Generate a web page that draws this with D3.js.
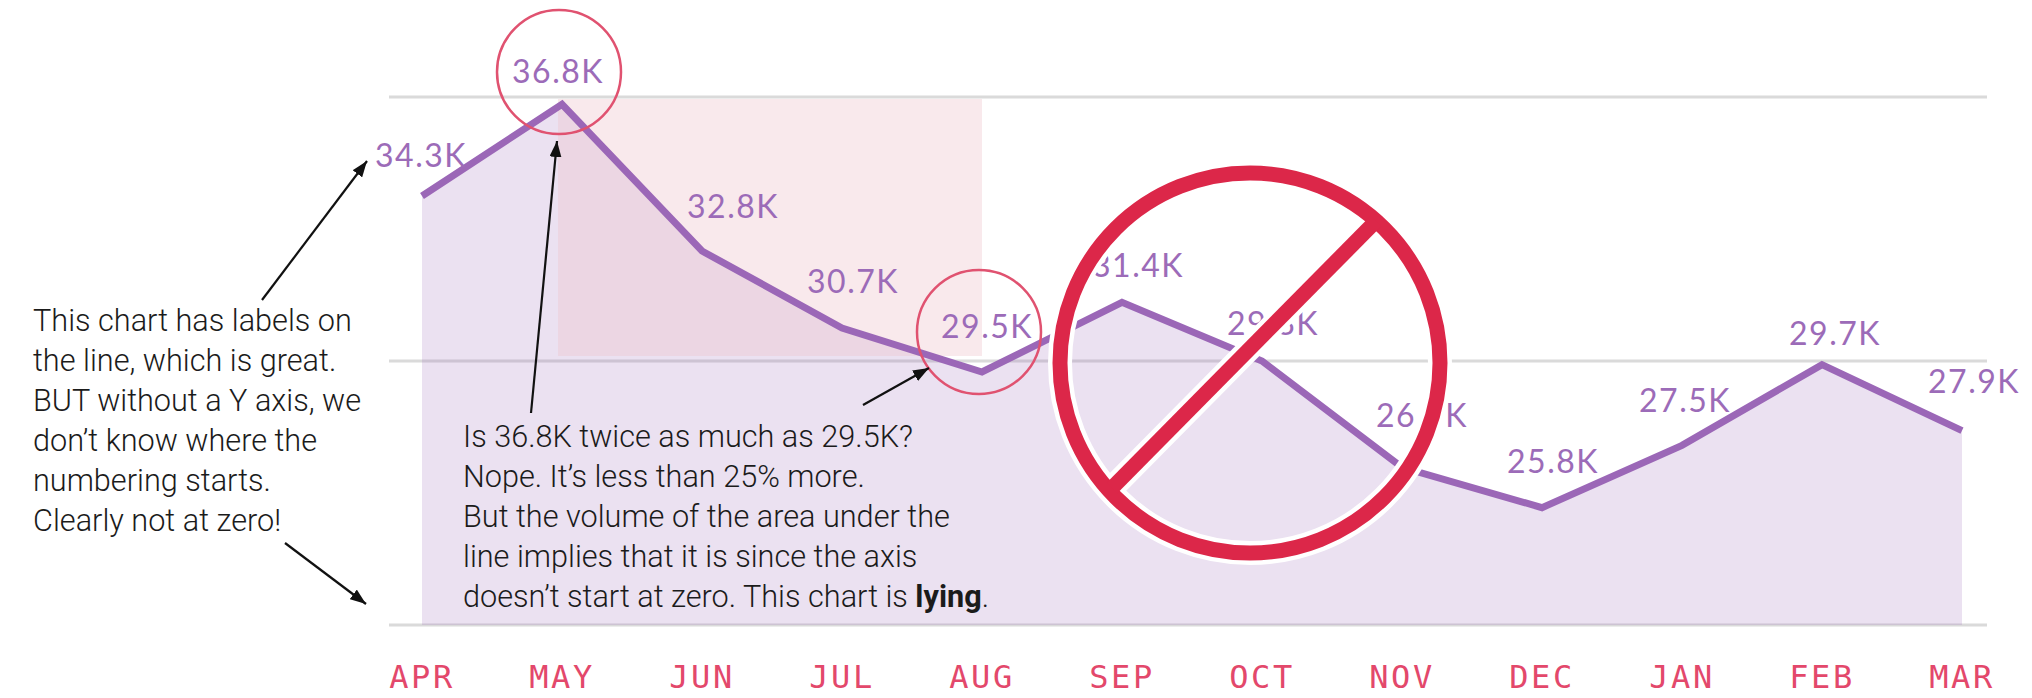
<!DOCTYPE html>
<html>
<head>
<meta charset="utf-8">
<script src="https://cdn.jsdelivr.net/npm/d3@7"></script>
<style>
  html, body { margin: 0; padding: 0; background: #ffffff; }
  svg { display: block; }
</style>
</head>
<body>
<svg id="chart" width="2032" height="698"></svg>
<script>
// ---- data ----
const months = ["APR", "MAY", "JUN", "JUL", "AUG", "SEP", "OCT", "NOV", "DEC", "JAN", "FEB", "MAR"];
const values = [34.3, 36.8, 32.8, 30.7, 29.5, 31.4, 29.8, 26.9, 25.8, 27.5, 29.7, 27.9]; // thousands
const gridValues = [22.6, 29.8, 37.0];

const leftNote = [
  "This chart has labels on",
  "the line, which is great.",
  "BUT without a Y axis, we",
  "don\u2019t know where the",
  "numbering starts.",
  "Clearly not at zero!"
];
const bottomNote = [
  "Is 36.8K twice as much as 29.5K?",
  "Nope. It\u2019s less than 25% more.",
  "But the volume of the area under the",
  "line implies that it is since the axis",
  "doesn\u2019t start at zero. This chart is "
];
const boldWord = "lying";

// ---- layout ----
const W = 2032, H = 698;
const gridX = [389, 1987];
// per-point label offsets [dx, dy] from the point to the label baseline centre
const labelNudge = [[-1, -29], [-4, -21], [31, -33], [11, -35], [5, -34], [16, -25],
                    [11, -26], [20, -40], [11, -35], [3, -33], [13, -20], [12, -38]];

const svg = d3.select("#chart");
const data = months.map((m, i) => ({ m, v: values[i], i }));

const x = d3.scalePoint().domain(months).range([422, 1962]);
const y = d3.scaleLinear().domain([gridValues[0], gridValues[gridValues.length - 1]]).range([625, 97]);

// gridlines
svg.append("g").selectAll("line").data(gridValues).join("line")
  .attr("x1", gridX[0]).attr("x2", gridX[1])
  .attr("y1", d => y(d)).attr("y2", d => y(d))
  .attr("stroke", "#dadada").attr("stroke-width", 3);

// area under the line
const area = d3.area()
  .x(d => x(d.m))
  .y0(y(gridValues[0]))
  .y1(d => y(d.v));
svg.append("path").datum(data)
  .attr("d", area)
  .attr("fill", "rgb(155,105,183)")
  .attr("fill-opacity", 0.2);

// highlighted span MAY..AUG
svg.append("rect")
  .attr("x", x("MAY") - 4).attr("width", x("AUG") - x("MAY") + 4)
  .attr("y", y(gridValues[2]) + 2)
  .attr("height", y(gridValues[1]) - y(gridValues[2]) - 7)
  .attr("fill", "rgb(240,196,204)")
  .attr("fill-opacity", 0.38);

// line
const line = d3.line().x(d => x(d.m)).y(d => y(d.v));
svg.append("path").datum(data)
  .attr("d", line)
  .attr("fill", "none")
  .attr("stroke", "#9b67b7")
  .attr("stroke-width", 7)
  .attr("stroke-linejoin", "miter");

// value labels
svg.append("g").selectAll("text").data(data).join("text")
  .attr("x", d => x(d.m) + labelNudge[d.i][0])
  .attr("y", d => y(d.v) + labelNudge[d.i][1])
  .attr("text-anchor", "middle")
  .attr("font-family", "Lato, 'Open Sans', sans-serif")
  .attr("font-size", 32)
  .attr("letter-spacing", 1.5)
  .attr("fill", "#9c6bb8")
  .text(d => d.v.toFixed(1) + "K");

// month axis labels
svg.append("g").selectAll("text").data(months).join("text")
  .attr("x", d => x(d))
  .attr("y", 688)
  .attr("text-anchor", "middle")
  .attr("font-family", "'DejaVu Sans Mono', 'Liberation Mono', monospace")
  .attr("font-size", 32)
  .attr("letter-spacing", 2.5)
  .attr("fill", "#e3486b")
  .text(d => d);

// thin highlight circles around the compared labels
const ringThin = [{ m: "MAY", cy: 72 }, { m: "AUG", cy: 332 }];
svg.append("g").selectAll("circle").data(ringThin).join("circle")
  .attr("cx", d => x(d.m) - 3)
  .attr("cy", d => d.cy)
  .attr("r", 62)
  .attr("fill", "none")
  .attr("stroke", "#e05270")
  .attr("stroke-width", 2.5);

// arrows
const defs = svg.append("defs");
defs.append("marker")
  .attr("id", "head")
  .attr("viewBox", "0 0 16 12")
  .attr("refX", 16).attr("refY", 6)
  .attr("markerWidth", 16).attr("markerHeight", 12)
  .attr("markerUnits", "userSpaceOnUse")
  .attr("orient", "auto")
  .append("path").attr("d", "M0,0 L16,6 L0,12 Z").attr("fill", "#111");

const arrows = [
  [[262, 300], [367, 161]],
  [[285, 543], [366, 604]],
  [[531, 413], [557, 141]],
  [[863, 405], [929, 368]]
];
svg.append("g").selectAll("line").data(arrows).join("line")
  .attr("x1", d => d[0][0]).attr("y1", d => d[0][1])
  .attr("x2", d => d[1][0]).attr("y2", d => d[1][1])
  .attr("stroke", "#111").attr("stroke-width", 2.2)
  .attr("marker-end", "url(#head)");

// notes, set in a horizontally condensed light sans
function noteBlock(lines, x0, y0, lead, targetWidth, boldTail) {
  const g = svg.append("g");
  const font = "Roboto, 'Liberation Sans', sans-serif";
  const t = g.append("text")
    .attr("font-family", font)
    .attr("font-weight", 300)
    .attr("font-size", 32)
    .attr("fill", "#1b1b1b");
  lines.forEach((s, i) => {
    t.append("tspan").attr("x", 0).attr("y", i * lead).text(s);
    if (boldTail && i === lines.length - 1) {
      t.append("tspan").attr("font-weight", 700).text(boldTail);
      t.append("tspan").text(".");
    }
  });
  const first = g.append("text")
    .attr("font-family", font)
    .attr("font-weight", 300).attr("font-size", 32)
    .text(lines[0]);
  const w = first.node().getComputedTextLength();
  first.remove();
  const sx = targetWidth / w;
  g.attr("transform", `translate(${x0},${y0}) scale(${sx},1)`);
}
noteBlock(leftNote, 33, 331, 40, 319, null);
noteBlock(bottomNote, 463, 447, 40, 450, boldWord);

// "no" sign over the middle of the chart
const ban = { cx: 1250, cy: 363, r: 190 };
const slash = [[1376, 221], [1112, 488]];
const bg = svg.append("g");
bg.append("circle").attr("cx", ban.cx).attr("cy", ban.cy).attr("r", ban.r)
  .attr("fill", "none").attr("stroke", "#ffffff").attr("stroke-width", 24);
bg.append("line").attr("x1", slash[0][0]).attr("y1", slash[0][1])
  .attr("x2", slash[1][0]).attr("y2", slash[1][1])
  .attr("stroke", "#ffffff").attr("stroke-width", 24);
bg.append("circle").attr("cx", ban.cx).attr("cy", ban.cy).attr("r", ban.r)
  .attr("fill", "none").attr("stroke", "#dc2749").attr("stroke-width", 15);
bg.append("line").attr("x1", slash[0][0]).attr("y1", slash[0][1])
  .attr("x2", slash[1][0]).attr("y2", slash[1][1])
  .attr("stroke", "#dc2749").attr("stroke-width", 15);
</script>
</body>
</html>
